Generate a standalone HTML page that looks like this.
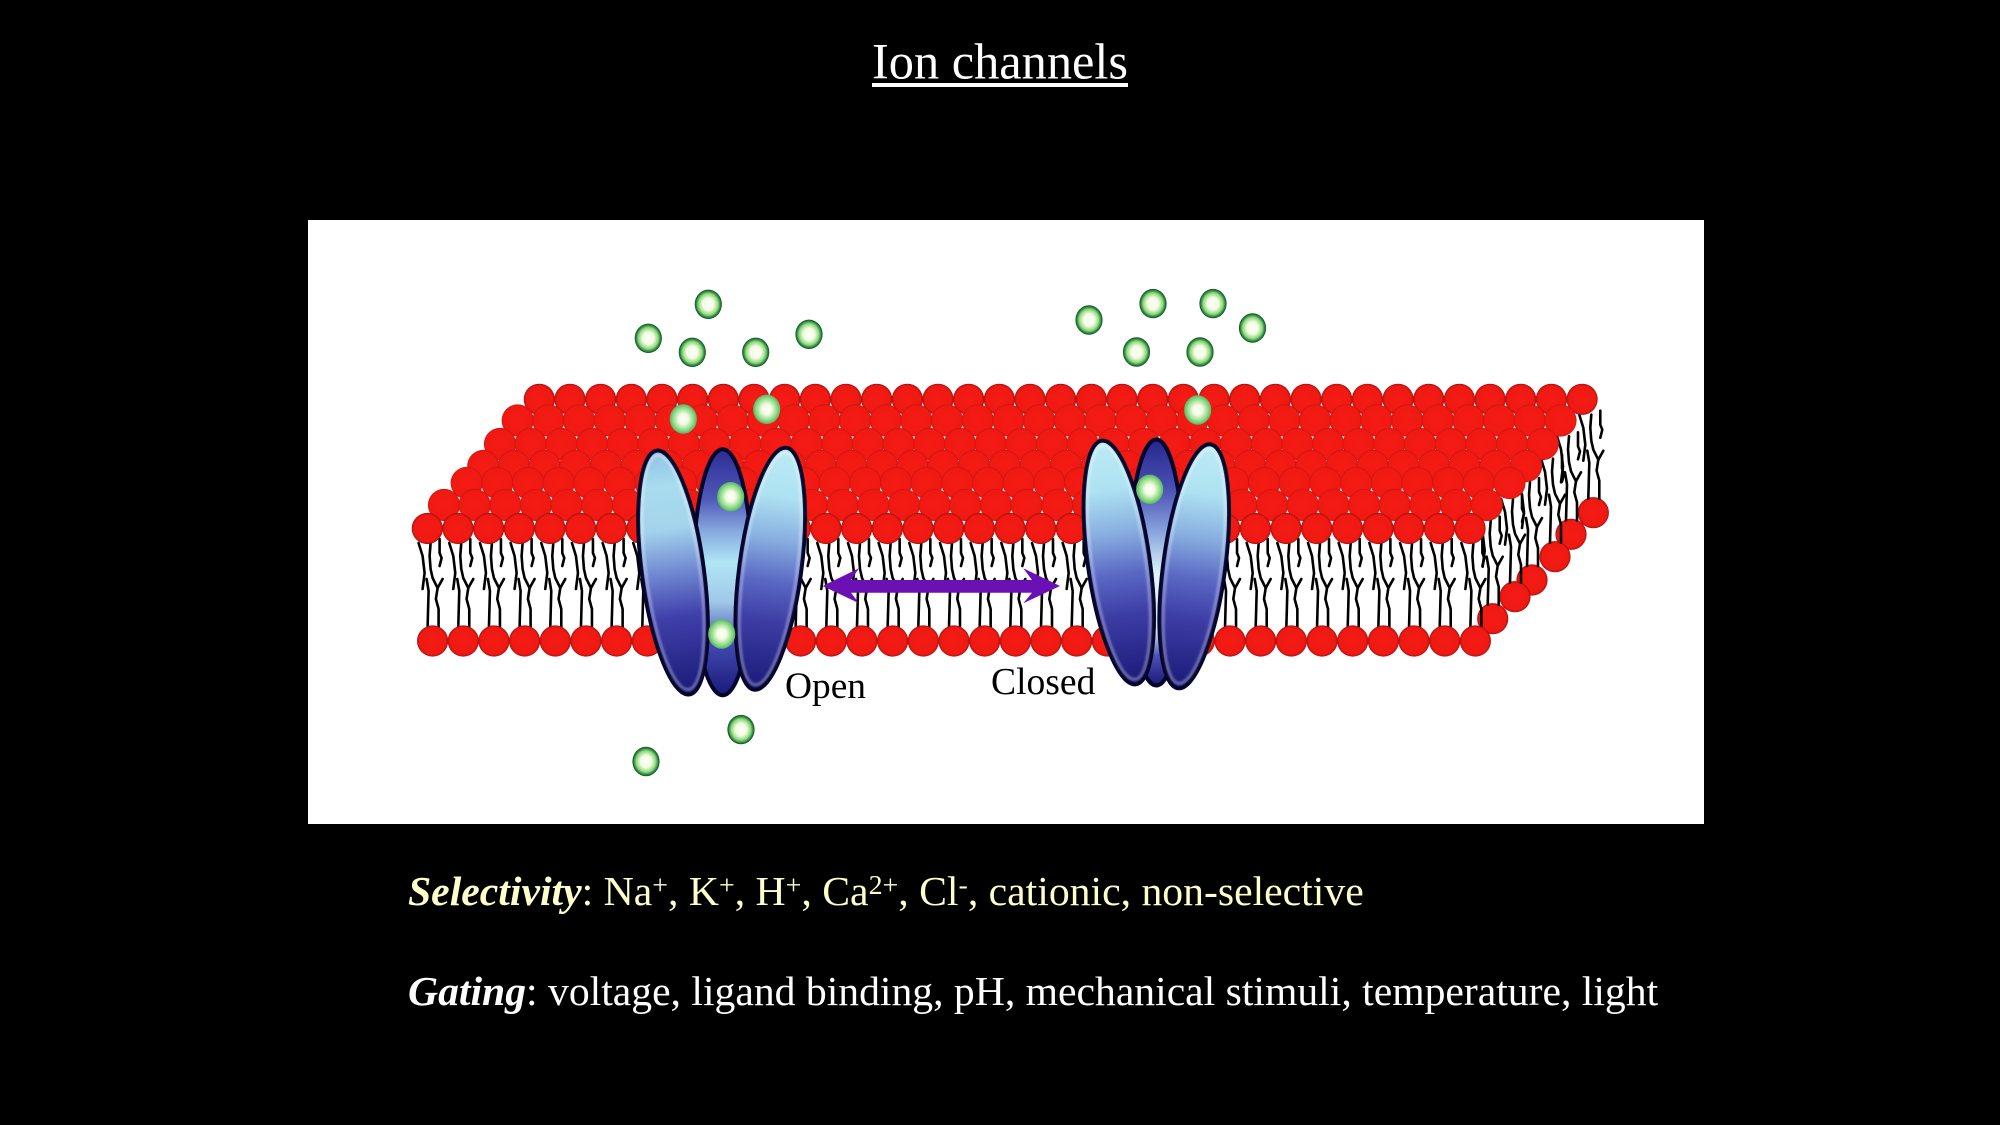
<!DOCTYPE html>
<html><head><meta charset="utf-8"><title>Ion channels</title>
<style>
html,body{margin:0;padding:0;background:#000;width:2000px;height:1125px;overflow:hidden}
svg{position:absolute;left:0;top:0}
.t{position:absolute;white-space:nowrap;font-family:"Liberation Serif",serif;line-height:1}
.s{font-size:.67em;position:relative;top:-.38em}
</style></head><body>
<svg width="2000" height="1125" viewBox="0 0 2000 1125" xmlns="http://www.w3.org/2000/svg">
<defs>
<radialGradient id="rd"><stop offset="0" stop-color="#f51b14"/><stop offset=".84" stop-color="#ef1a13"/><stop offset=".95" stop-color="#cc1310"/><stop offset="1" stop-color="#900b0b"/></radialGradient>
<radialGradient id="rs"><stop offset="0" stop-color="#f51b14"/><stop offset=".88" stop-color="#f01a13"/><stop offset=".97" stop-color="#dc1611"/><stop offset="1" stop-color="#b81210"/></radialGradient>
<radialGradient id="io"><stop offset="0" stop-color="#fff"/><stop offset=".42" stop-color="#f2fbdf"/><stop offset=".72" stop-color="#8fd880"/><stop offset=".88" stop-color="#2f8f40"/><stop offset="1" stop-color="#0f4a20"/></radialGradient>
<radialGradient id="il"><stop offset="0" stop-color="#fff"/><stop offset=".35" stop-color="#f4fbe2"/><stop offset=".75" stop-color="#90dc88"/><stop offset="1" stop-color="#55b865"/></radialGradient>
<linearGradient id="sl" x1="0" y1="0" x2="0" y2="1"><stop offset="0" stop-color="#8fc0e6"/><stop offset=".15" stop-color="#a8dcee"/><stop offset=".32" stop-color="#a4d4ec"/><stop offset=".5" stop-color="#7088d2"/><stop offset=".68" stop-color="#4040aa"/><stop offset="1" stop-color="#1a1a78"/></linearGradient>
<linearGradient id="sr" x1="0" y1="0" x2="0" y2="1"><stop offset="0" stop-color="#bdeaf5"/><stop offset=".2" stop-color="#aee2f2"/><stop offset=".38" stop-color="#88aee0"/><stop offset=".55" stop-color="#5a68c4"/><stop offset=".72" stop-color="#3c3ca4"/><stop offset="1" stop-color="#1a1a78"/></linearGradient>
<linearGradient id="mo" x1="0" y1="0" x2="0" y2="1"><stop offset="0" stop-color="#2c2c94"/><stop offset=".2" stop-color="#5058b8"/><stop offset=".33" stop-color="#86a8de"/><stop offset=".46" stop-color="#b0e6f4"/><stop offset=".62" stop-color="#a0c8e8"/><stop offset=".8" stop-color="#4048ae"/><stop offset="1" stop-color="#1a1a78"/></linearGradient>
<linearGradient id="mc" x1="0" y1="0" x2="0" y2="1"><stop offset="0" stop-color="#26268c"/><stop offset=".2" stop-color="#4a50b4"/><stop offset=".38" stop-color="#8aa6de"/><stop offset=".55" stop-color="#dff5fa"/><stop offset=".78" stop-color="#cfeaf5"/><stop offset=".88" stop-color="#4a50b4"/><stop offset="1" stop-color="#1a1a78"/></linearGradient>
<filter id="b1" x="-20%" y="-20%" width="140%" height="140%"><feGaussianBlur stdDeviation="1.2"/></filter>

<circle id="c" r="15.6" fill="url(#rd)"/>
<g id="c5"><use href="#c"/><use href="#c" x="30.67"/><use href="#c" x="61.34"/><use href="#c" x="92"/><use href="#c" x="122.68"/></g>
<g id="c35"><use href="#c5"/><use href="#c5" x="153.35"/><use href="#c5" x="306.7"/><use href="#c5" x="460.05"/><use href="#c5" x="613.4"/><use href="#c5" x="766.75"/><use href="#c5" x="920.1"/></g>
<circle id="d" r="16.1" fill="url(#rs)"/>
<g id="d5"><use href="#d"/><use href="#d" x="30.67"/><use href="#d" x="61.34"/><use href="#d" x="92"/><use href="#d" x="122.68"/></g>
<g id="d35"><use href="#d5"/><use href="#d5" x="153.35"/><use href="#d5" x="306.7"/><use href="#d5" x="460.05"/><use href="#d5" x="613.4"/><use href="#d5" x="766.75"/><use href="#d5" x="920.1"/></g>

<g id="t" fill="none" stroke="#000" stroke-width="2.6" stroke-linejoin="round" stroke-linecap="round">
<polyline points="-5,-14 -4,-50 -6,-62"/>
<polyline points="6,-14 6,-32 3.3,-42 5,-53 10,-62"/>
<polyline points="-14,-98 -10,-85 -8,-68 -10,-52"/>
<polyline points="-2,-98 -3,-85 -2,-72 0,-63 5,-53"/>
<polyline points="7,-102 7,-88 9,-83 7,-75"/>
</g>
<g id="t5"><use href="#t"/><use href="#t" x="30.67"/><use href="#t" x="61.34"/><use href="#t" x="92"/><use href="#t" x="122.68"/></g>
<g id="t35"><use href="#t5"/><use href="#t5" x="153.35"/><use href="#t5" x="306.7"/><use href="#t5" x="460.05"/><use href="#t5" x="613.4"/><use href="#t5" x="766.75"/><use href="#t5" x="920.1"/></g>
</defs>

<rect width="2000" height="1125" fill="#000"/>
<rect x="308" y="220" width="1396" height="604" fill="#fff"/>

<!-- title -->
<text x="1000" y="78.5" text-anchor="middle" font-family="'Liberation Serif',serif" font-size="50.4" fill="#fff">Ion channels</text>
<rect x="872" y="83" width="256" height="4" fill="#fff"/>

<!-- side heads (rear edge) -->
<use href="#c" x="1593.3" y="512.7"/>
<use href="#c" x="1571" y="534.3"/>
<use href="#c" x="1532" y="580"/>
<use href="#c" x="1555" y="556.7"/>
<use href="#c" x="1515" y="596.7"/>
<use href="#c" x="1492.7" y="618.7"/>

<!-- tails -->
<use href="#t" x="1593.3" y="512.7"/>
<use href="#t" x="1571" y="534.3"/>
<use href="#t" x="1555" y="556.7"/>
<use href="#t" x="1532" y="580"/>
<use href="#t" x="1515" y="596.7"/>
<use href="#t" x="1492.7" y="618.7"/>
<use href="#t35" x="432.6" y="641"/>

<!-- bottom row -->
<use href="#c35" x="432.6" y="641"/>

<!-- upper surface rows -->
<use href="#c35" x="539.3" y="399.3"/>
<use href="#d35" x="517.7" y="420.5"/>
<use href="#d35" x="500" y="444"/>
<use href="#d35" x="483.3" y="466"/>
<use href="#d35" x="466.7" y="483"/>
<use href="#d35" x="444" y="505"/>
<use href="#c35" x="427.3" y="528.5"/>

<!-- open channel -->
<g stroke="#04042c" stroke-width="4">
<ellipse cx="722.7" cy="572.3" rx="29" ry="123" fill="url(#mo)"/>
<ellipse cx="673" cy="572.5" rx="31" ry="123" transform="rotate(-7.6 673 572.5)" fill="url(#sl)"/>
<ellipse cx="770.3" cy="568.7" rx="31" ry="122" transform="rotate(7.6 770.3 568.7)" fill="url(#sr)"/>
</g>
<g fill="none" stroke="#fff" stroke-width="2" opacity=".5" filter="url(#b1)">
<ellipse cx="673" cy="572.5" rx="27" ry="118" transform="rotate(-7.6 673 572.5)"/>
<ellipse cx="770.3" cy="568.7" rx="27" ry="117" transform="rotate(7.6 770.3 568.7)"/>
</g>

<!-- closed channel -->
<g stroke="#04042c" stroke-width="4">
<ellipse cx="1156.3" cy="562.5" rx="27" ry="123" fill="url(#mc)"/>
<ellipse cx="1118.8" cy="562.5" rx="31" ry="123" transform="rotate(-8 1118.8 562.5)" fill="url(#sr)"/>
<ellipse cx="1194.2" cy="566.3" rx="31" ry="123" transform="rotate(7.6 1194.2 566.3)" fill="url(#sr)"/>
</g>
<g fill="none" stroke="#fff" stroke-width="2" opacity=".5" filter="url(#b1)">
<ellipse cx="1118.8" cy="562.5" rx="27" ry="118" transform="rotate(-8 1118.8 562.5)"/>
<ellipse cx="1194.2" cy="566.3" rx="27" ry="118" transform="rotate(7.6 1194.2 566.3)"/>
</g>

<!-- arrow -->
<polygon points="822.7,586 859,568.3 851,580 1032,580 1023.3,568.3 1060,586 1023.3,603.3 1032,592.7 851,592.7 859,603.3" fill="#6a10b4"/>

<!-- ions -->
<g fill="url(#io)">
<ellipse cx="708.3" cy="304.3" rx="13.6" ry="14.7"/>
<ellipse cx="648.3" cy="338.3" rx="13.6" ry="14.7"/>
<ellipse cx="692.3" cy="352.3" rx="13.6" ry="14.7"/>
<ellipse cx="755.7" cy="352.3" rx="13.6" ry="14.7"/>
<ellipse cx="809" cy="334.3" rx="13.6" ry="14.7"/>
<ellipse cx="741" cy="729.6" rx="13.6" ry="14.7"/>
<ellipse cx="646" cy="761.5" rx="13.6" ry="14.7"/>
<ellipse cx="1089" cy="320" rx="13.6" ry="14.7"/>
<ellipse cx="1153" cy="303.6" rx="13.6" ry="14.7"/>
<ellipse cx="1213" cy="303.6" rx="13.6" ry="14.7"/>
<ellipse cx="1252.5" cy="328" rx="13.6" ry="14.7"/>
<ellipse cx="1136.5" cy="352" rx="13.6" ry="14.7"/>
<ellipse cx="1200" cy="352" rx="13.6" ry="14.7"/>
</g>
<g fill="url(#il)">
<ellipse cx="683.3" cy="419" rx="13.6" ry="14.7"/>
<ellipse cx="766.7" cy="409.3" rx="13.6" ry="14.7"/>
<ellipse cx="1197.7" cy="410" rx="13.6" ry="14.7"/>
<ellipse cx="730.7" cy="496.7" rx="13.6" ry="14.7"/>
<ellipse cx="721.7" cy="634" rx="13.6" ry="14.7"/>
<ellipse cx="1149.7" cy="489.3" rx="13.6" ry="14.7"/>
</g>

<!-- labels -->
<text x="785" y="698" font-family="'Liberation Serif',serif" font-size="37.4" fill="#000">Open</text>
<text x="991" y="694" font-family="'Liberation Serif',serif" font-size="37.6" fill="#000">Closed</text>
</svg>

<div class="t" style="left:408px;top:871.5px;font-size:41.7px;color:#ffffcc"><b><i>Selectivity</i></b>: Na<span class="s">+</span>, K<span class="s">+</span>, H<span class="s">+</span>, Ca<span class="s">2+</span>, Cl<span class="s">-</span>, cationic, non-selective</div>
<div class="t" style="left:408px;top:972px;font-size:41.65px;color:#fff"><b><i>Gating</i></b>: voltage, ligand binding, pH, mechanical stimuli, temperature, light</div>
</body></html>
